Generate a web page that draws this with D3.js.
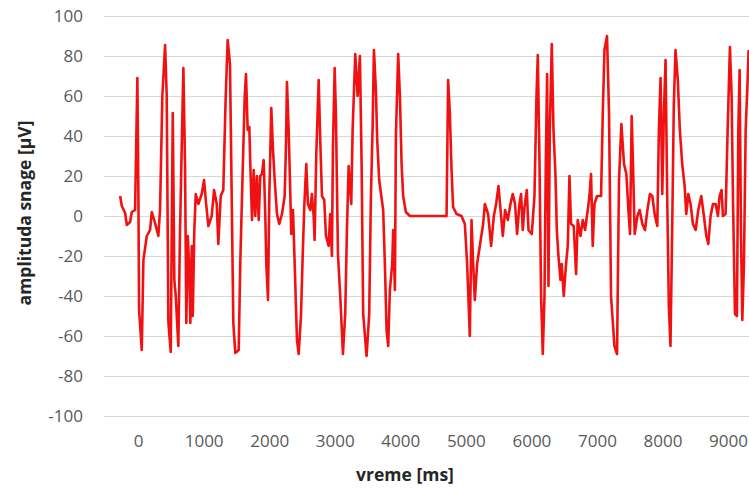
<!DOCTYPE html>
<html>
<head>
<meta charset="utf-8">
<script src="https://cdn.jsdelivr.net/npm/d3@7"></script>
<style>
  body { margin: 0; background: #fff; }
  .tick text { font-family: "Open Sans", sans-serif; font-size: 17px; fill: #595959; }
  .title { font-family: "Open Sans", sans-serif; font-size: 17.5px; font-weight: bold; fill: #262626; }
</style>
</head>
<body>
<div id="chart"></div>
<script>
// signal samples: time [ms] and amplitude [uV]
var times = [
  -274, -248, -198, -172, -122, -96, -46, -11, 5, 15, 56, 81, 133, 183, 209, 259, 309, 335, 370, 412,
  437, 462, 498, 529, 553, 575, 614, 640, 666, 691, 716, 736, 758, 777, 797, 819, 834, 858, 880, 919,
  971, 1006, 1037, 1072, 1123, 1159, 1200, 1224, 1261, 1300, 1337, 1367, 1402, 1428, 1453, 1483, 1535, 1559, 1596, 1627,
  1646, 1672, 1697, 1712, 1738, 1764, 1788, 1814, 1840, 1864, 1890, 1916, 1941, 1956, 1982, 2002, 2032, 2058, 2084, 2119,
  2154, 2195, 2236, 2256, 2271, 2297, 2317, 2337, 2363, 2389, 2424, 2450, 2485, 2511, 2535, 2566, 2591, 2627, 2652, 2678,
  2693, 2718, 2755, 2779, 2805, 2840, 2866, 2907, 2931, 2957, 2973, 2999, 3018, 3049, 3084, 3125, 3160, 3186, 3212, 3252,
  3273, 3313, 3349, 3384, 3410, 3434, 3486, 3526, 3552, 3578, 3598, 3628, 3648, 3678, 3739, 3765, 3791, 3816, 3841, 3877,
  3892, 3918, 3933, 3968, 3994, 4020, 4044, 4085, 4146, 4706, 4730, 4756, 4782, 4806, 4858, 4934, 4985, 5020, 5061, 5087,
  5112, 5137, 5172, 5213, 5264, 5290, 5340, 5386, 5427, 5462, 5498, 5538, 5564, 5599, 5640, 5681, 5716, 5751, 5782, 5818,
  5843, 5869, 5895, 5930, 5956, 6006, 6047, 6078, 6098, 6124, 6148, 6174, 6200, 6220, 6240, 6261, 6281, 6311, 6337, 6368,
  6388, 6413, 6444, 6463, 6494, 6529, 6555, 6581, 6605, 6646, 6682, 6707, 6749, 6784, 6819, 6860, 6886, 6910, 6936, 6962,
  7002, 7063, 7089, 7115, 7154, 7185, 7215, 7267, 7307, 7322, 7337, 7373, 7413, 7449, 7480, 7505, 7530, 7550, 7576, 7617,
  7652, 7693, 7733, 7770, 7809, 7845, 7885, 7921, 7945, 7971, 7997, 8021, 8047, 8072, 8097, 8122, 8148, 8173, 8199, 8234,
  8265, 8301, 8338, 8363, 8394, 8429, 8464, 8506, 8546, 8592, 8632, 8669, 8699, 8734, 8770, 8811, 8846, 8872, 8902, 8922,
  8963, 8994, 9029, 9055, 9075, 9106, 9136, 9157, 9177, 9197, 9218, 9243, 9269, 9299, 9314
];
var amps = [
  10, 5, 1.5, -4.5, -3, 2, 3, 69, 10, -47, -67, -22, -10, -7, 2, -3.5, -10, 3, 60, 85.5,
  60, -53, -68, 51.5, -32, -40, -65, -7, 35, 74, 26, -53.5, -10, -23.5, -53.5, -15, -50, -7, 11, 6,
  11, 18, 6.5, -5, 0, 13, 6, -14, 10, 13, 60, 88, 76, 10, -53.5, -68.5, -67, -23.5, 23, 60,
  71, 43, 44.5, 26, -2, 23, 0, 20, -2, 20, 21, 28, 0, -24, -42, 10, 54, 33, 18, 1,
  -4, 1, 10, 35, 67, 43, 18, -9, 3, -24, -62, -69, -50, -20, 4.5, 26, 6, 3, 11, 0,
  -12, 30, 68, 38, 10, 8, -10, -15, 1, -20, 35, 74, 51, -19, -40, -69, -49, -7, 25, 6,
  43, 81, 60, 80, 26, -49, -70, -49, 10, 44.5, 83, 63, 38, 18, 3, -24, -57, -65, -37, -24,
  -7, -37, 40, 81, 60, 26, 10, 2, 0, 0, 68, 51.5, 23, 4.5, 1, 0, -4, -24, -60, -2,
  -24, -42, -24, -15, -4, 6, 1, -15, 0, 6, 15, 0, -10, 3, -2, 6, 11, 6, -9, 6,
  11, -7, 4.5, 13, -7, -9, 10, 60, 80.5, 26, -40, -69, -40, 26, 71, -35, 43, 86, 43, 20,
  -7, -20, -32, -24, -40, -24, -15, 20, -4, -5, -29, -2, -10, -2, -7, 3, 10, 21, -15, 6,
  10, 10, 51, 83, 90, 51, -40, -65, -69, -24, 18, 46, 26, 21, 3, -9, 50, 26, -9, 0,
  3, -4, -7, 3, 11, 10, 0, -5, 43, 69, 11, 51, 78, 10, -45, -65, -7, 56, 83, 68,
  43, 26, 15, 1, 11, 6, -4, -7, 3, 10, 0, -10, -14, 0, 6, 6, 0, 10, 13, 0,
  1, 43, 84.5, 60, 10, -49, -50, 43, 73, -7, -52, -24, 43, 68, 83
];
var yTicks = [-100, -80, -60, -40, -20, 0, 20, 40, 60, 80, 100];
var xTicks = [0, 1000, 2000, 3000, 4000, 5000, 6000, 7000, 8000, 9000];

var W = 749, H = 488,
    mLeft = 104, mRight = 749, mTop = 16, mBottom = 416;

var svg = d3.select("#chart").append("svg")
    .attr("width", W)
    .attr("height", H);

var x = d3.scaleLinear().domain([-520, 9320]).range([mLeft, mRight]);
var y = d3.scaleLinear().domain([-100, 100]).range([mBottom, mTop]);

var plain = function(d) { return String(d); };

// horizontal grid + y labels
var yAxis = svg.append("g")
    .attr("transform", "translate(" + mLeft + ",0)")
    .call(d3.axisLeft(y).tickValues(yTicks).tickFormat(plain).tickSize(-(mRight - mLeft)).tickPadding(21));
yAxis.select(".domain").remove();
yAxis.selectAll(".tick line").attr("stroke", "#d9d9d9").attr("stroke-width", 1);

// x labels
var xAxis = svg.append("g")
    .attr("transform", "translate(0," + mBottom + ")")
    .call(d3.axisBottom(x).tickValues(xTicks).tickFormat(plain).tickSize(0).tickPadding(19));
xAxis.select(".domain").remove();

svg.append("clipPath").attr("id", "plot")
  .append("rect").attr("x", mLeft).attr("y", 0).attr("width", mRight - mLeft).attr("height", H);

var line = d3.line()
    .x(function(d, i) { return x(times[i]); })
    .y(function(d, i) { return y(amps[i]); });

svg.append("path")
    .datum(amps)
    .attr("clip-path", "url(#plot)")
    .attr("fill", "none")
    .attr("stroke", "#f01212")
    .attr("stroke-width", 2.6)
    .attr("stroke-linejoin", "round")
    .attr("d", line);

svg.append("text")
    .attr("class", "title")
    .attr("text-anchor", "middle")
    .attr("transform", "translate(31,213) rotate(-90)")
    .text("amplituda snage [µV]");

svg.append("text")
    .attr("class", "title")
    .attr("text-anchor", "middle")
    .attr("x", 405)
    .attr("y", 481)
    .text("vreme [ms]");
</script>
</body>
</html>
